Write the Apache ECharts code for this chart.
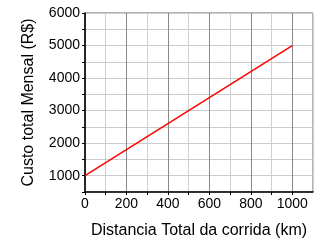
<!DOCTYPE html>
<html>
<head>
<meta charset="utf-8">
<script src="https://cdn.jsdelivr.net/npm/echarts@6/dist/echarts.min.js"></script>
<style>
  html, body { margin: 0; padding: 0; background: #fff; }
  #chart { width: 329px; height: 248px; }
</style>
</head>
<body>
<div id="chart"></div>
<script>
// dados
const distancias = [0, 1000];
const custos = [1000, 5000];
const xLabels = [0, 200, 400, 600, 800, 1000];
const yLabels = [1000, 2000, 3000, 4000, 5000, 6000];

const chart = echarts.init(document.getElementById('chart'));

const option = {
  backgroundColor: '#fff',
  animation: false,
  grid: {
    left: 85, right: 16, top: 13, bottom: 56,
    show: true, borderColor: '#666', borderWidth: 1
  },
  xAxis: {
    type: 'value',
    min: 0, max: 1100, interval: 100,
    name: 'Distancia Total da corrida (km)',
    nameLocation: 'middle',
    nameGap: 31,
    nameTextStyle: { fontFamily: 'Liberation Sans', fontSize: 16, color: '#000' },
    axisLine: { onZero: false, lineStyle: { color: '#000', width: 1.5 } },
    axisTick: { show: true, length: 3, lineStyle: { color: '#000' } },
    axisLabel: {
      fontFamily: 'Liberation Sans', fontSize: 14, color: '#000', margin: 5,
      showMaxLabel: false,
      formatter: v => (xLabels.indexOf(v) >= 0 ? String(v) : '')
    },
    splitLine: { show: true, lineStyle: { color: ['#888888', '#d0d0d0'], width: 1 } }
  },
  yAxis: {
    type: 'value',
    min: 500, max: 6000, interval: 500,
    name: 'Custo total Mensal (R$)',
    nameLocation: 'middle',
    nameGap: 48,
    nameTextStyle: { fontFamily: 'Liberation Sans', fontSize: 16, color: '#000' },
    axisLine: { show: true, onZero: false, lineStyle: { color: '#000', width: 1.5 } },
    axisTick: { show: true, length: 3, lineStyle: { color: '#000' } },
    axisLabel: {
      fontFamily: 'Liberation Sans', fontSize: 14, color: '#000', margin: 5,
      formatter: v => (yLabels.indexOf(v) >= 0 ? String(v) : '')
    },
    splitLine: { show: true, lineStyle: { color: '#cccccc', width: 1 } }
  },
  series: [
    {
      type: 'line',
      data: distancias.map((d, i) => [d, custos[i]]),
      symbol: 'none',
      lineStyle: { color: '#ff0000', width: 1.5 }
    }
  ]
};

chart.setOption(option);
</script>
</body>
</html>
